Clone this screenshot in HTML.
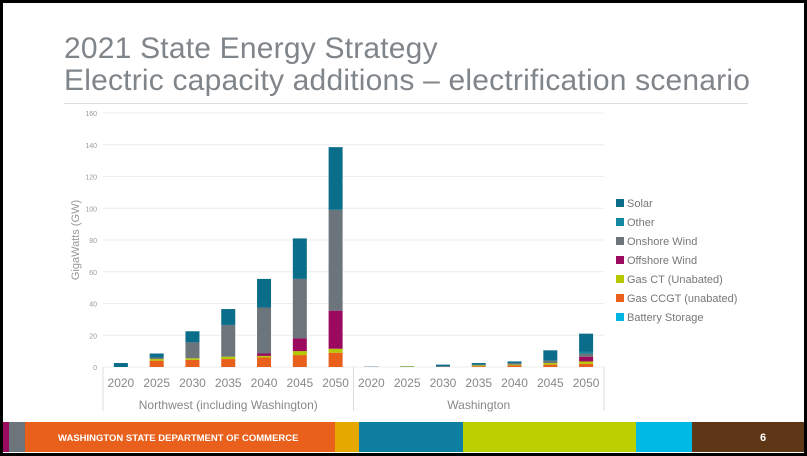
<!DOCTYPE html>
<html><head><meta charset="utf-8"><style>
body{margin:0;background:#000;}
#slide{position:absolute;left:3px;top:3px;width:801px;height:450px;background:#fff;overflow:hidden;font-family:"Liberation Sans",sans-serif;}
.t{position:absolute;left:61px;color:#80858a;font-size:30px;white-space:nowrap;letter-spacing:0.2px;}
</style></head><body>
<div id="slide">
<div class="t" style="top:29px">2021 State Energy Strategy</div>
<div class="t" style="top:61px">Electric capacity additions – electrification scenario</div>
<div style="position:absolute;left:61px;top:100px;width:684px;height:1px;background:#ddd"></div>
</div>
<svg id="chart" width="807" height="456" style="position:absolute;left:0;top:0" font-family="Liberation Sans, sans-serif"></svg>
<script>
const series=["Battery Storage","Gas CCGT (unabated)","Gas CT (Unabated)","Offshore Wind","Onshore Wind","Other","Solar"];
const colors=["#00b5e2","#e8601c","#b5c900","#9b0a5e","#6c747c","#1487a3","#0a6d8a"];
const groups=["Northwest (including Washington)","Washington"];
const years=["2020","2025","2030","2035","2040","2045","2050"];
const battery=[0,0,0,0,0,0,0, 0,0,0,0,0,0,0];
const ccgt=[0,4,4.5,5,6,7.5,9, 0,0,0,0.5,1,1.5,2];
const gasct=[0,1,1,1.5,1,2.5,2.5, 0,0.3,0,0.5,0.5,1,1.5];
const offshore=[0,0,0,0,1.5,8,24, 0,0,0,0,0,0,3];
const onshore=[0,1,10,20,29,37.5,63.5, 0.2,0,0.5,0.5,1,1.5,2];
const other=[0,0,0,0,0,0,0, 0,0,0,0,0,0,1];
const solar=[2.5,2.5,7,10,18,25.5,39.5, 0.1,0.2,1,1,1,6.5,11.5];
const yTicks=[0,20,40,60,80,100,120,140,160];
const vals=[battery,ccgt,gasct,offshore,onshore,other,solar];
const NS="http://www.w3.org/2000/svg";
const svg=document.getElementById('chart');
function mk(t,a,txt){const e=document.createElementNS(NS,t);for(const k in a)e.setAttribute(k,a[k]);if(txt!==undefined)e.textContent=txt;svg.appendChild(e);return e;}
const x0=103,x1=604,y0=367,y1=113;
const y=v=>y0-(v/160)*(y0-y1);
const step=(x1-x0)/14;
const xc=i=>x0+step*(i+0.5);
yTicks.forEach(t=>{
 const l=mk('line',{x1:x0,x2:x1,y1:y(t),y2:y(t),stroke:'#ececec','stroke-width':1});
 
 
 const tx=mk('text',{x:97,y:y(t)+3,'font-size':7,fill:'#999','text-anchor':'end'},t);
 
 
});
const yt=mk('text',{x:79,y:240,'font-size':11,fill:'#999','text-anchor':'middle',transform:'rotate(-90 79 240)'},'GigaWatts (GW)');


for(let i=0;i<14;i++){
 let base=0;
 vals.forEach((arr,s)=>{
  const v=arr[i]; if(v<=0)return;
  const r=mk('rect',{x:xc(i)-7,y:y(base+v),width:14,height:y(base)-y(base+v),fill:colors[s]});
  
  
  base+=v;
 });
 const lb=mk('text',{x:xc(i),y:387,'font-size':12,fill:'#888','text-anchor':'middle'},years[i%7]);
 
 
}
[x0,(x0+x1)/2,x1].forEach((xx,k)=>{
 const l=mk('line',{x1:xx,x2:xx,y1:y0,y2:411,stroke:'#ddd'});
 
 
});
groups.forEach((g,k)=>{
 const t=mk('text',{x:x0+(x1-x0)/4*(1+2*k),y:409,'font-size':12,fill:'#888','text-anchor':'middle'},g);
 
 
});
for(let s=6;s>=0;s--){
 const ry=203+(6-s)*19;
 const r=mk('rect',{x:616,y:ry-4,width:8,height:8,fill:colors[s]});
 
 
 const t=mk('text',{x:627,y:ry+4,'font-size':11,fill:'#777'},series[s]);
 
 
}
const segs=[[3,9,'#9b0a5e'],[9,25,'#6c747c'],[25,335,'#e8601c'],[335,359,'#e5a800'],[359,463,'#0e7fa0'],[463,636,'#bccf00'],[636,692,'#00b9e4'],[692,804,'#5e3816']];
segs.forEach(s=>{
 const r=mk('rect',{x:s[0],y:422,width:s[1]-s[0],height:30,fill:s[2]});
 
 
});
const f=mk('text',{x:58,y:441,'font-size':9.5,'font-weight':'bold',fill:'#fff'},'WASHINGTON STATE DEPARTMENT OF COMMERCE');


const p=mk('text',{x:763,y:441,'font-size':11,'font-weight':'bold',fill:'#fff','text-anchor':'middle'},'6');


</script>
</body></html>
